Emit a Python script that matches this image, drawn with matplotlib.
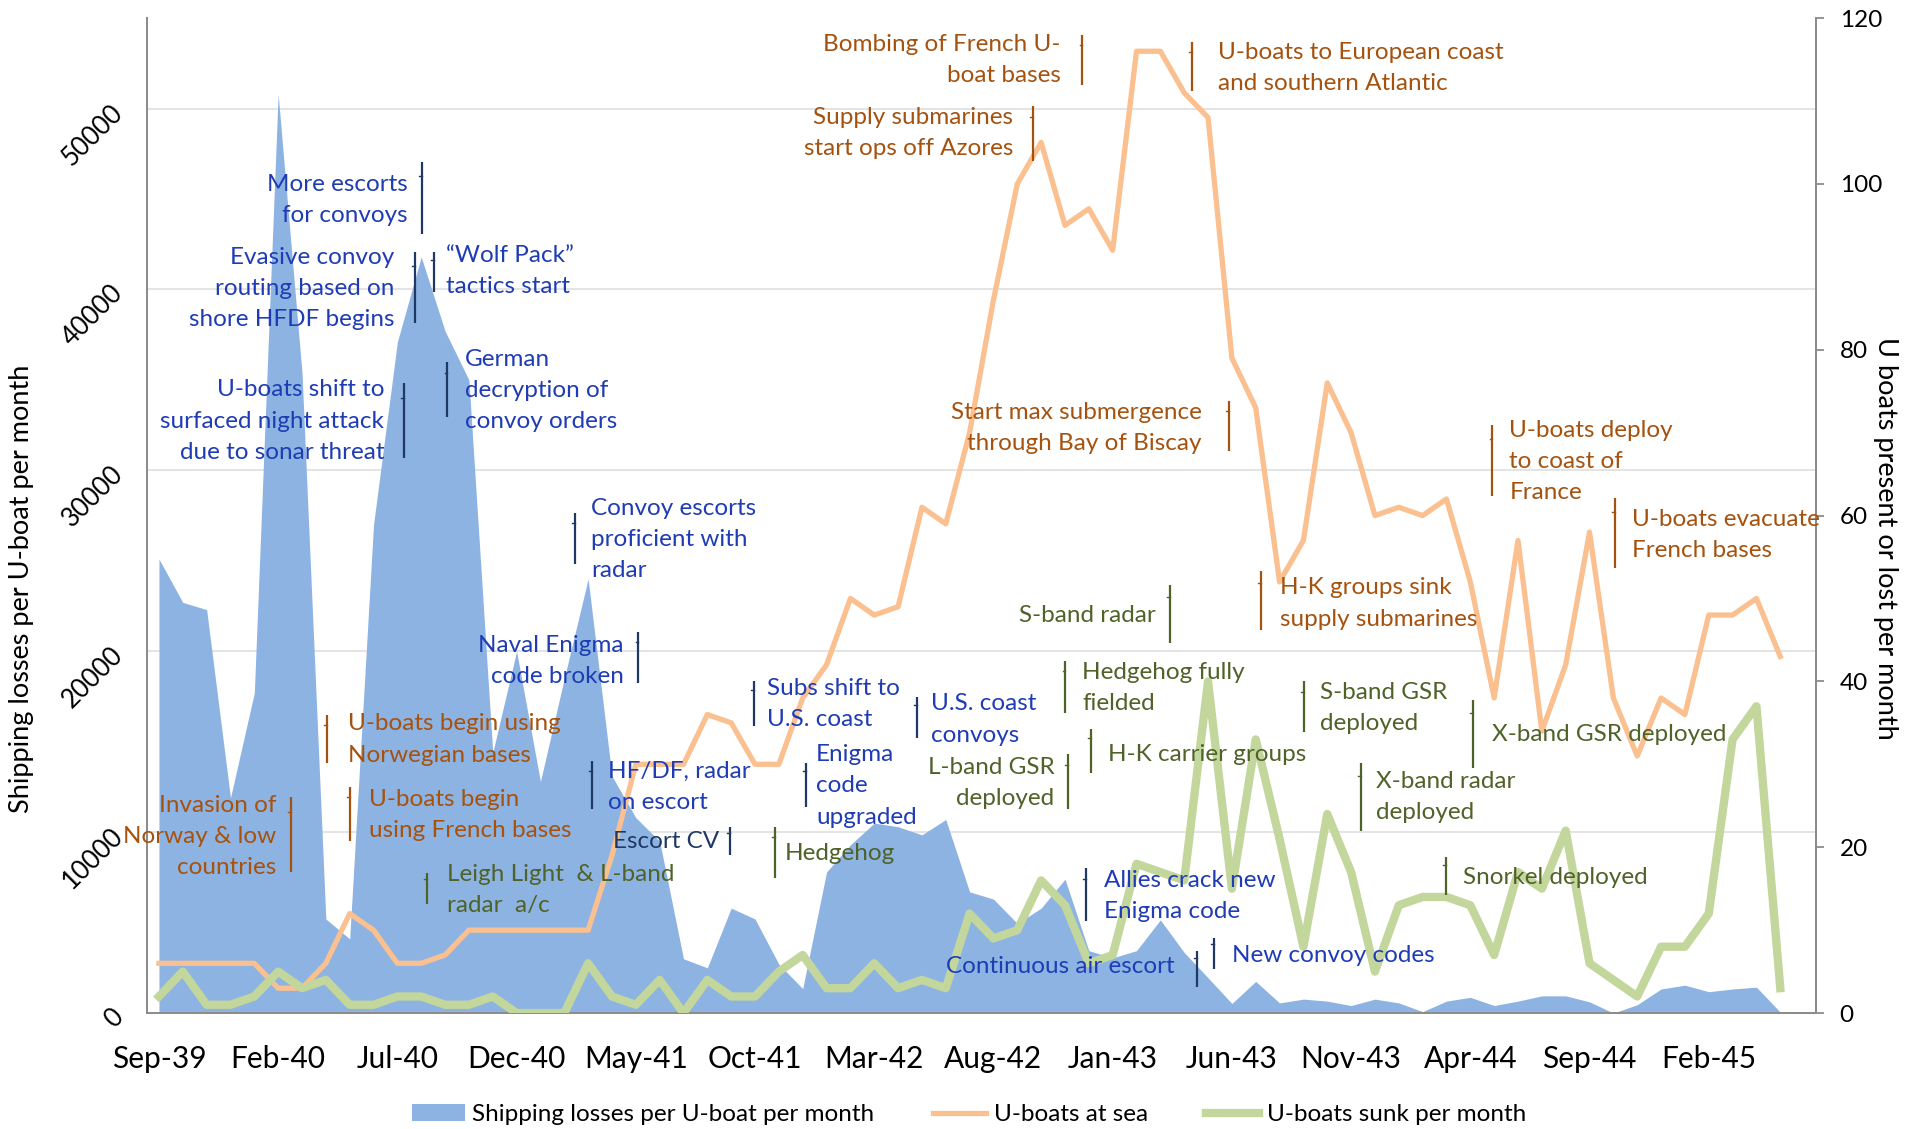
import numpy as np
import matplotlib.pyplot as plt
from matplotlib.patches import Patch
from matplotlib.lines import Line2D

plt.rcParams['font.family'] = ['Lato', 'DejaVu Sans']

# monthly data, Sep-39 .. May-45
shipping_losses = [25100, 22700, 22300, 11900, 17700, 50800, 35400, 5200, 4100, 27000,
                   37100, 41800, 37700, 35000, 14400, 20000, 12800, 18500, 24000, 13100,
                   10800, 9500, 3000, 2500, 5800, 5200, 2700, 1350, 7800, 9300,
                   10500, 10300, 9850, 10700, 6700, 6300, 4950, 5800, 7400, 3450,
                   3050, 3450, 5150, 3350, 1950, 530, 1750, 560, 770, 660,
                   415, 770, 560, 80, 660, 870, 415, 660, 950, 950,
                   620, 0, 460, 1330, 1540, 1180, 1330, 1430, 50]
uboats_at_sea = [6, 6, 6, 6, 6, 3, 3, 6, 12, 10,
                 6, 6, 7, 10, 10, 10, 10, 10, 10, 19,
                 30, 30, 30, 36, 35, 30, 30, 38, 42, 50,
                 48, 49, 61, 59, 70, 86, 100, 105, 95, 97,
                 92, 116, 116, 111, 108, 79, 73, 52, 57, 76,
                 70, 60, 61, 60, 62, 52, 38, 57, 34, 42,
                 58, 38, 31, 38, 36, 48, 48, 50, 43]
uboats_sunk = [2, 5, 1, 1, 2, 5, 3, 4, 1, 1,
               2, 2, 1, 1, 2, 0, 0, 0, 6, 2,
               1, 4, 0, 4, 2, 2, 5, 7, 3, 3,
               6, 3, 4, 3, 12, 9, 10, 16, 13, 6,
               7, 18, 17, 16, 40, 15, 33, 21, 8, 24,
               17, 5, 13, 14, 14, 13, 7, 17, 15, 22,
               6, 4, 2, 8, 8, 12, 33, 37, 3]
tick_labels = ['Sep-39', 'Feb-40', 'Jul-40', 'Dec-40', 'May-41', 'Oct-41', 'Mar-42',
               'Aug-42', 'Jan-43', 'Jun-43', 'Nov-43', 'Apr-44', 'Sep-44', 'Feb-45']

# colours per kind of event: (text, marker line)
kinds = {
    'allied': ('#1F3CB4', '#1F3864'),
    'navy': ('#1F3864', '#1F3864'),
    'german': ('#A5520F', '#A5520F'),
    'tech': ('#4F6228', '#4F6228'),
}
# text, kind, text x, text y (right axis units), align, line x, line y0, line y1
events = [
    ("More escorts\nfor convoys", 'allied', 10.92, 98.1, 'right', 11.53, 93.9, 102.7),
    ("Evasive convoy\nrouting based on\nshore HFDF begins", 'allied', 10.36, 87.4, 'right', 11.22, 83.2, 91.8),
    ("\u201cWolf Pack\u201d\ntactics start", 'allied', 12.55, 89.5, 'left', 12.04, 87.0, 91.8),
    ("U-boats shift to\nsurfaced night attack\ndue to sonar threat", 'allied', 9.95, 71.4, 'right', 10.77, 67.0, 76.0),
    ("German\ndecryption of\nconvoy orders", 'allied', 13.32, 75.1, 'left', 12.60, 71.9, 78.5),
    ("Convoy escorts\nproficient with\nradar", 'allied', 18.62, 57.1, 'left', 17.96, 54.1, 60.3),
    ("Naval Enigma\ncode broken", 'allied', 20.0, 42.5, 'right', 20.61, 39.8, 46.0),
    ("U-boats begin using\nNorwegian bases", 'german', 8.42, 33.0, 'left', 7.55, 30.2, 35.9),
    ("Invasion of\nNorway & low\ncountries", 'german', 5.41, 21.3, 'right', 6.02, 17.0, 26.0),
    ("U-boats begin\nusing French bases", 'german', 9.29, 23.9, 'left', 8.52, 20.8, 27.3),
    ("Leigh Light  & L-band\nradar  a/c", 'tech', 12.60, 14.8, 'left', 11.73, 13.2, 16.9),
    ("HF/DF, radar\non escort", 'allied', 19.34, 27.3, 'left', 18.67, 24.6, 30.4),
    ("Escort CV", 'navy', 23.98, 20.7, 'right', 24.44, 19.1, 22.4),
    ("Hedgehog", 'tech', 26.73, 19.2, 'left', 26.33, 16.3, 22.4),
    ("Subs shift to\nU.S. coast", 'allied', 26.02, 37.3, 'left', 25.46, 34.6, 40.0),
    ("Enigma\ncode\nupgraded", 'allied', 28.06, 27.4, 'left', 27.65, 24.9, 30.2),
    ("U.S. coast\nconvoys", 'allied', 32.86, 35.4, 'left', 32.30, 33.2, 38.1),
    ("L-band GSR\ndeployed", 'tech', 38.06, 27.7, 'right', 38.62, 24.6, 31.2),
    ("Hedgehog fully\nfielded", 'tech', 39.23, 39.2, 'left', 38.52, 36.2, 42.5),
    ("H-K carrier groups", 'tech', 40.31, 31.2, 'left', 39.59, 28.9, 34.2),
    ("S-band radar", 'tech', 42.30, 48.0, 'right', 42.91, 44.6, 51.6),
    ("Allies crack new\nEnigma code", 'allied', 40.15, 14.1, 'left', 39.39, 11.1, 17.5),
    ("Continuous air escort", 'allied', 43.11, 5.6, 'right', 44.03, 3.2, 7.5),
    ("New convoy codes", 'allied', 45.51, 7.0, 'left', 44.74, 5.3, 9.1),
    ("Bombing of French U-\nboat bases", 'german', 38.32, 114.9, 'right', 39.23, 111.9, 117.9),
    ("U-boats to European coast\nand southern Atlantic", 'german', 44.90, 114.0, 'left', 43.83, 111.2, 117.1),
    ("Supply submarines\nstart ops off Azores", 'german', 36.33, 106.1, 'right', 37.14, 102.8, 109.4),
    ("Start max submergence\nthrough Bay of Biscay", 'german', 44.23, 70.6, 'right', 45.36, 67.8, 73.8),
    ("H-K groups sink\nsupply submarines", 'german', 47.50, 49.4, 'left', 46.73, 46.2, 53.3),
    ("U-boats deploy\nto coast of\nFrance", 'german', 57.14, 66.5, 'left', 56.43, 62.3, 70.9),
    ("U-boats evacuate\nFrench bases", 'german', 62.30, 57.7, 'left', 61.58, 53.7, 62.1),
    ("S-band GSR\ndeployed", 'tech', 49.18, 36.8, 'left', 48.52, 33.9, 40.0),
    ("X-band radar\ndeployed", 'tech', 51.53, 26.1, 'left', 50.92, 22.0, 30.2),
    ("X-band GSR deployed", 'tech', 56.43, 33.6, 'left', 55.61, 29.5, 37.8),
    ("Snorkel deployed", 'tech', 55.20, 16.3, 'left', 54.49, 14.2, 18.8),
]

x = np.arange(len(shipping_losses)) + 0.5

fig = plt.figure(figsize=(19.07, 11.29), dpi=100)
ax = fig.add_axes([0.0771, 0.1027, 0.8752, 0.8813])

ax.fill_between(x, 0, shipping_losses, color='#8DB3E2', lw=0, zorder=2)
ax.set_xlim(0, 70)
ax.set_ylim(0, 55000)
ax.set_yticks(range(0, 50001, 10000))
ax.yaxis.grid(True, color='#E4E4E4', lw=1.4, zorder=0)
ax.set_axisbelow(True)
ax.set_xticks(x[::5])
ax.set_xticklabels(tick_labels, fontsize=21.5)
ax.tick_params(axis='x', length=0, pad=23)
ax.tick_params(axis='y', length=0, pad=20, labelsize=18.5)
for lab in ax.get_yticklabels():
    lab.set_rotation(45)
    lab.set_ha('right')
    lab.set_va('center')
    lab.set_rotation_mode('anchor')

ax2 = ax.twinx()
ax2.plot(x, uboats_at_sea, color='#FAC090', lw=3.8, zorder=3)
ax2.plot(x, uboats_sunk, color='#C3D69B', lw=6.0, zorder=4)
ax2.set_ylim(0, 120)
ax2.set_yticks(range(0, 121, 20))
ax2.tick_params(axis='y', length=6, width=1.3, color='#8C8C8C', pad=11, labelsize=17.5)

fig.text(0.0115, 0.4787, 'Shipping losses per U-boat per month', rotation=90,
         ha='center', va='center', fontsize=19.5)
fig.text(0.9885, 0.5228, 'U boats present or lost per month', rotation=270,
         ha='center', va='center', fontsize=19.5)

for a in (ax, ax2):
    a.spines['top'].set_visible(False)
    for s in ('left', 'right', 'bottom'):
        a.spines[s].set_color('#8C8C8C')
        a.spines[s].set_linewidth(1.4)

for text, kind, tx, ty, ha, lx, ly0, ly1 in events:
    tcol, lcol = kinds[kind]
    ax2.text(tx, ty, text, color=tcol, fontsize=17.5, ha=ha, va='center',
             multialignment=ha, linespacing=1.6, zorder=6)
    ax2.plot([lx, lx], [ly0, ly1], color=lcol, lw=1.6, zorder=6, solid_capstyle='butt')
    ytick = ly1 - 0.2 * (ly1 - ly0)
    ax2.plot([lx - 0.12, lx], [ytick, ytick], color=lcol, lw=1.0, zorder=6)

handles = [Patch(facecolor='#8DB3E2', edgecolor='none'),
           Line2D([], [], color='#FAC090', lw=3.8),
           Line2D([], [], color='#C3D69B', lw=6.0)]
fig.legend(handles, ['Shipping losses per U-boat per month', 'U-boats at sea', 'U-boats sunk per month'],
           loc='lower center', bbox_to_anchor=(0.508, -0.016), ncol=3, frameon=False,
           fontsize=17.5, handlelength=2.2, columnspacing=2.4, handletextpad=0.3)

fig.savefig('out.png', dpi=100)
